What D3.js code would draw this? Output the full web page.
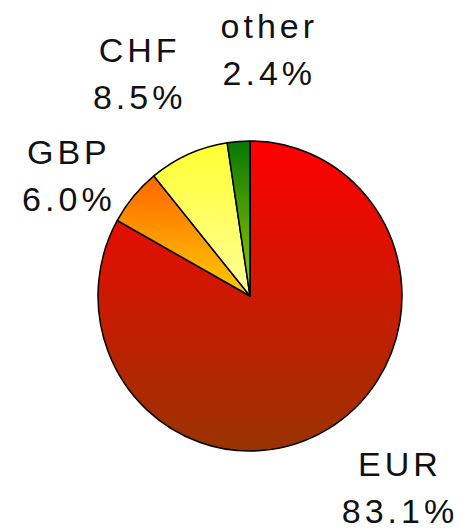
<!DOCTYPE html>
<html>
<head>
<meta charset="utf-8">
<script src="https://cdn.jsdelivr.net/npm/d3@7"></script>
<style>
   html, body { margin: 0; padding: 0; background: #fff; }
   svg text { font-family: "Liberation Sans", Arial, sans-serif; }
</style>
</head>
<body>
<svg class="currencypie" width="461" height="532"></svg>
<script>
// DATA
var currencies = ['EUR', 'GBP', 'CHF', 'other'];
var shares = [83.1, 6.0, 8.5, 2.4];

// gradient stops, top -> bottom of each slice
var topColors = ['#ff0000', '#ff6600', '#ffff33', '#087800'];
var bottomColors = ['#993300', '#ffcc00', '#ffff99', '#99cc00'];

// label nudges away from the mid-angle point
var labelNudges = [[29, -12], [-3, 30], [-17, -8], [35, -13]];

var svg = d3.select('svg.currencypie');

var layout = {cx: 250, cy: 296, rx: 152, ry: 155, labelRadius: 235, lineHeight: 47};

var pie = d3.pie().sort(null).value(function (d) {
   return d.value;
});

var data = currencies.map(function (name, i) {
   return {name: name, value: shares[i], top: topColors[i], bottom: bottomColors[i], nudge: labelNudges[i]};
});

var arcs = pie(data);

var arc = d3.arc().innerRadius(0).outerRadius(layout.rx);

// one vertical gradient per slice
var defs = svg.append('defs');
var grads = defs.selectAll('linearGradient')
   .data(data)
   .enter().append('linearGradient')
   .attr('id', function (d, i) {
      return 'grad' + i;
   })
   .attr('x1', 0).attr('y1', 0)
   .attr('x2', 0).attr('y2', 1);

grads.append('stop').attr('offset', '0%').attr('stop-color', function (d) {
   return d.top;
});
grads.append('stop').attr('offset', '100%').attr('stop-color', function (d) {
   return d.bottom;
});

var pieGroup = svg.append('g')
   .attr('transform', 'translate(' + layout.cx + ',' + layout.cy + ') scale(1,' + (layout.ry / layout.rx) + ')');

pieGroup.selectAll('path')
   .data(arcs)
   .enter().append('path')
   .attr('d', arc)
   .attr('fill', function (d, i) {
      return 'url(#grad' + i + ')';
   })
   .attr('stroke', '#000')
   .attr('stroke-width', 1.5)
   .attr('stroke-linejoin', 'round');

// labels
var labels = svg.append('g').selectAll('text')
   .data(arcs)
   .enter().append('text')
   .attr('text-anchor', 'middle')
   .style('font-size', '34px')
   .style('letter-spacing', '4px')
   .attr('fill', '#111')
   .attr('transform', function (d) {
      var mid = (d.startAngle + d.endAngle) / 2;
      var x = layout.cx + Math.sin(mid) * layout.labelRadius + d.data.nudge[0];
      var y = layout.cy - Math.cos(mid) * layout.labelRadius + d.data.nudge[1];
      return 'translate(' + x + ',' + y + ')';
   });

labels.append('tspan')
   .attr('x', 2)
   .attr('y', -11)
   .text(function (d) {
      return d.data.name;
   });

labels.append('tspan')
   .attr('x', 2)
   .attr('y', -11 + layout.lineHeight)
   .text(function (d) {
      return d3.format('.1f')(d.data.value) + '%';
   });
</script>
</body>
</html>
